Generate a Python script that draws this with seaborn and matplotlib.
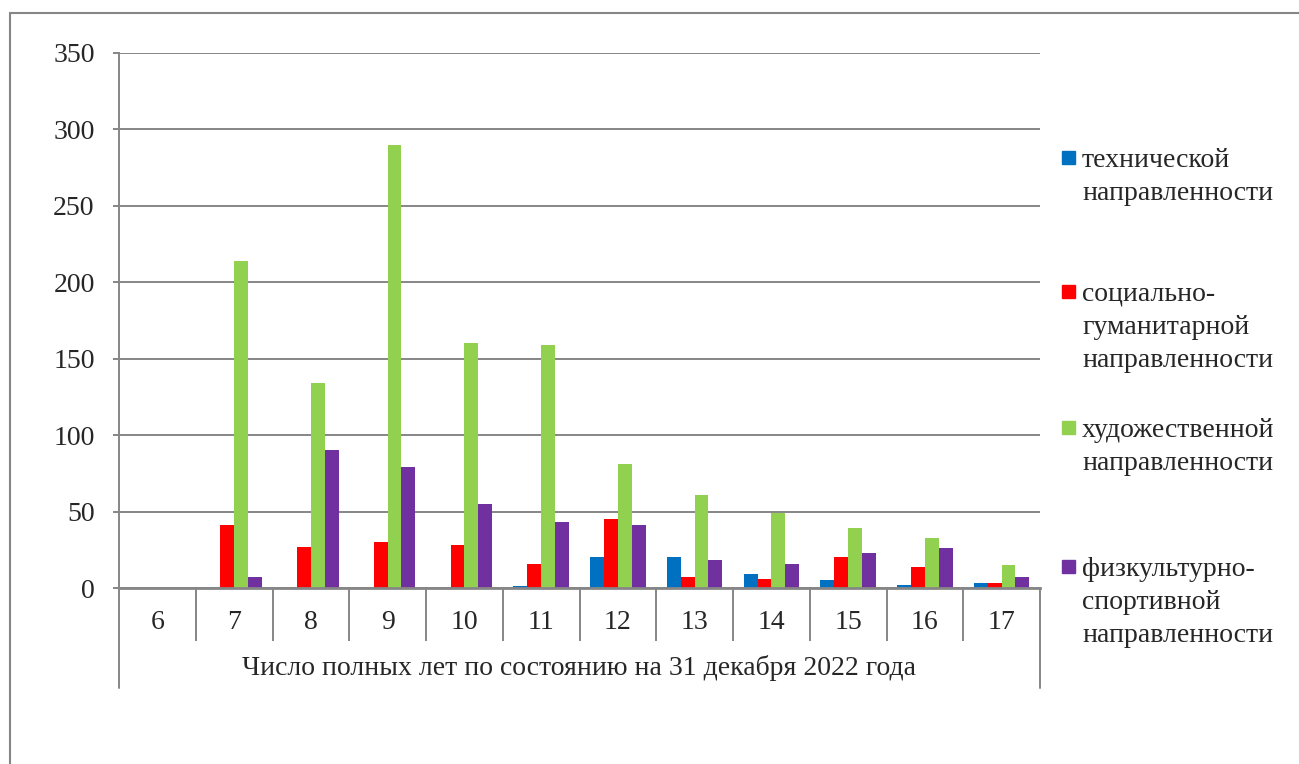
import pandas as pd
import matplotlib.pyplot as plt
import seaborn as sns
from matplotlib.patches import Rectangle
from matplotlib.lines import Line2D

ages = ["6", "7", "8", "9", "10", "11", "12", "13", "14", "15", "16", "17"]
series = [
    "технической\nнаправленности",
    "социально-\nгуманитарной\nнаправленности",
    "художественной\nнаправленности",
    "физкультурно-\nспортивной\nнаправленности",
]
colors = ["#0070C0", "#FF0000", "#92D050", "#7030A0"]
technical = [0, 0, 0, 0, 0, 1, 20, 20, 9, 5, 2, 3]
social = [0, 41, 27, 30, 28, 16, 45, 7, 6, 20, 14, 3]
art = [0, 214, 134, 290, 160, 159, 81, 61, 49, 39, 33, 15]
sport = [0, 7, 90, 79, 55, 43, 41, 18, 16, 23, 26, 7]
x_title = "Число полных лет по состоянию на 31 декабря 2022 года"

FONT = "Liberation Serif"
FS = 20

sns.set_style("white")
plt.rcParams["font.family"] = FONT

rows = []
for name, vals in zip(series, [technical, social, art, sport]):
    for age, v in zip(ages, vals):
        rows.append({"age": age, "value": v, "direction": name})
df = pd.DataFrame(rows)

W, H = 1299, 764
fig = plt.figure(figsize=(W / 100, H / 100), dpi=100)
ax = fig.add_axes([119 / W, 1 - 588 / H, (1040 - 119) / W, (588 - 53) / H])

sns.barplot(data=df, x="age", y="value", hue="direction", order=ages,
            hue_order=series, palette=colors, width=0.72, saturation=1,
            linewidth=0, legend=False, ax=ax)

grid = "#868686"
ax.set_ylim(0, 350)
ax.set_xlim(-0.5, len(ages) - 0.5)
ax.set_yticks(range(0, 351, 50))
ax.yaxis.grid(True, color=grid, linewidth=1.4)
ax.set_axisbelow(True)
for s in ["top", "right"]:
    ax.spines[s].set_visible(False)
ax.spines["left"].set_color(grid)
ax.spines["left"].set_linewidth(1.4)
ax.spines["bottom"].set_color(grid)
ax.spines["bottom"].set_linewidth(2)

ax.tick_params(axis="y", length=4.5, width=1.4, color=grid, pad=13, left=True)
ax.tick_params(axis="x", which="major", length=0, pad=16)
ax.set_xticks([i + 0.5 for i in range(len(ages) - 1)], minor=True)
ax.tick_params(axis="x", which="minor", length=38, width=1.4, color=grid,
               bottom=True, direction="out")
for lbl in ax.get_xticklabels() + ax.get_yticklabels():
    lbl.set_fontfamily(FONT)
    lbl.set_fontsize(FS)

# outer lines of the category table
for xpos in [0, 1]:
    ax.add_line(Line2D([xpos, xpos], [0, -100 / 535], transform=ax.transAxes,
                       color=grid, linewidth=1.4, clip_on=False))

ax.set_ylabel("")
ax.set_xlabel(x_title, fontsize=FS, family=FONT, va="center")
ax.xaxis.set_label_coords(0.5, -80 / 535)

# legend drawn by hand so the marker sits next to the first line
tops = [148, 282, 418, 557]
for name, col, yt in zip(series, colors, tops):
    fig.add_artist(Rectangle((1062 / W, 1 - (yt + 15.5) / H), 13 / W, 13 / H,
                             transform=fig.transFigure, color=col))
    fig.text(1082 / W, 1 - yt / H, name, ha="left", va="top",
             fontsize=FS, family=FONT, linespacing=1.41)

# chart frame
fig.add_artist(Line2D([10 / W, 1], [1 - 13 / H, 1 - 13 / H],
                      transform=fig.transFigure, color=grid, linewidth=1.5))
fig.add_artist(Line2D([10 / W, 10 / W], [0, 1 - 13 / H],
                      transform=fig.transFigure, color=grid, linewidth=1.5))

fig.savefig("out.png", dpi=100)
